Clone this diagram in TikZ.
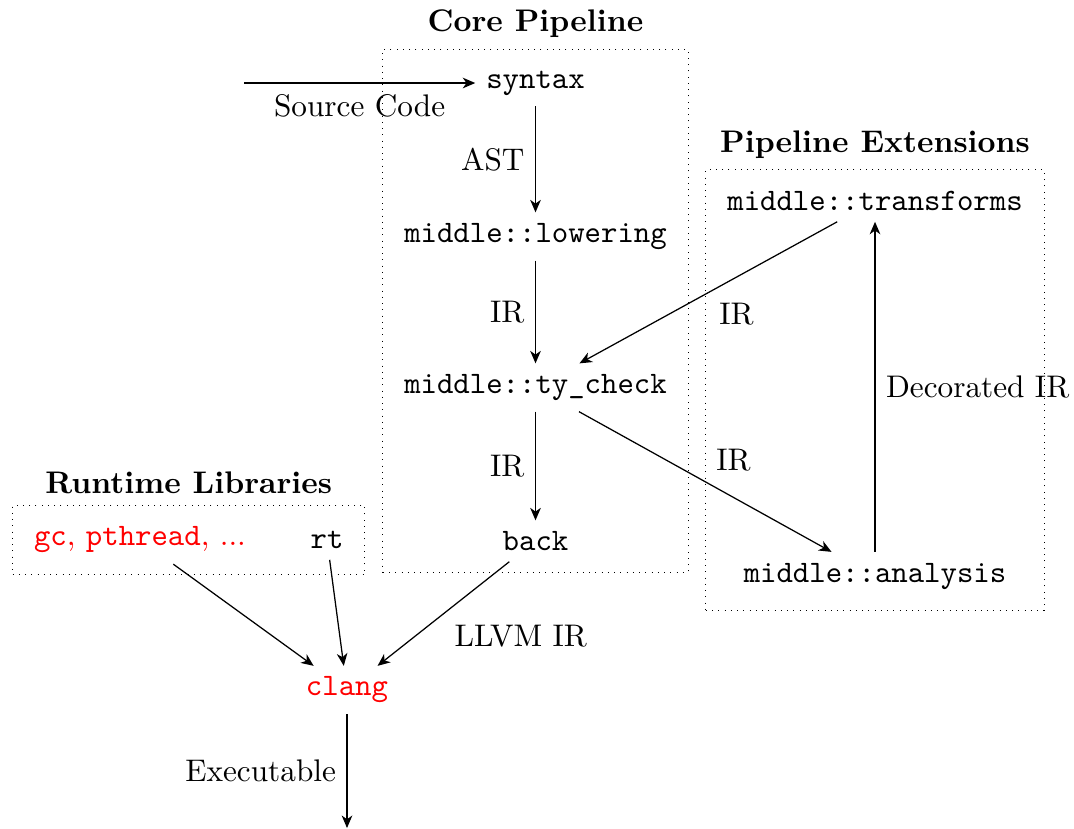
\documentclass[tikz,border=0pt]{standalone}
\usetikzlibrary{fit,arrows.meta}
\begin{document}
\begin{tikzpicture}[x=0.32pt,y=-0.32pt,
  mod/.style={font=\ttfamily},
  redmod/.style={font=\ttfamily,text=red},
  flow/.style={draw,-{Stealth[length=4pt,width=3.4pt,inset=1.2pt]},line width=0.4pt},
  groupbox/.style={draw,line width=0.3pt,dash pattern=on 0.3pt off 1.7pt},
  grouptitle/.style={font=\bfseries}]
\useasboundingbox (0,0) rectangle (1074,828);
% core pipeline
\node[mod] (syntax) at (535.5,83) {syntax};
\node[mod] (lowering) at (535.5,236.5) {middle::lowering};
\node[mod] (tycheck) at (535.5,387.5) {middle::ty\_check};
\node[mod] (back) at (535.5,541) {back};
% extensions
\node[mod] (transforms) at (875,201) {middle::transforms};
\node[mod] (analysis) at (875,576) {middle::analysis};
% runtime
\node[redmod] (gc) at (140,540) {gc\rmfamily, \ttfamily pthread\rmfamily, ...};
\node[mod] (rt) at (327,540) {rt};
\node[redmod] (clang) at (347,690) {clang};
\coordinate (src) at (244,83);
\coordinate (out) at (347,828);
% boxes
\node[groupbox,fit=(syntax)(lowering)(tycheck)(back),
  label={[grouptitle]above:Core Pipeline}] (core) {};
\node[groupbox,fit=(transforms)(analysis),
  label={[grouptitle]above:Pipeline Extensions}] (ext) {};
\node[groupbox,fit=(gc)(rt),
  label={[grouptitle]above:Runtime Libraries}] (rtl) {};
% edges
\draw[flow] (src) -- node[midway,below] {Source Code} (syntax);
\draw[flow] (syntax) -- node[midway,left] {AST} (lowering);
\draw[flow] (lowering) -- node[midway,left] {IR} (tycheck);
\draw[flow] (tycheck) -- node[midway,left] {IR} (back);
\draw[flow] (transforms) -- node[midway,below right] {IR} (tycheck);
\draw[flow] (tycheck) -- node[midway,above right] {IR} (analysis);
\draw[flow] (analysis) -- node[midway,right] {Decorated IR} (transforms);
\draw[flow] (gc) -- (clang);
\draw[flow] (rt) -- (clang);
\draw[flow] (back) -- node[midway,below right] {LLVM IR} (clang);
\draw[flow] (clang) -- node[midway,left] {Executable} (out);
\end{tikzpicture}
\end{document}
